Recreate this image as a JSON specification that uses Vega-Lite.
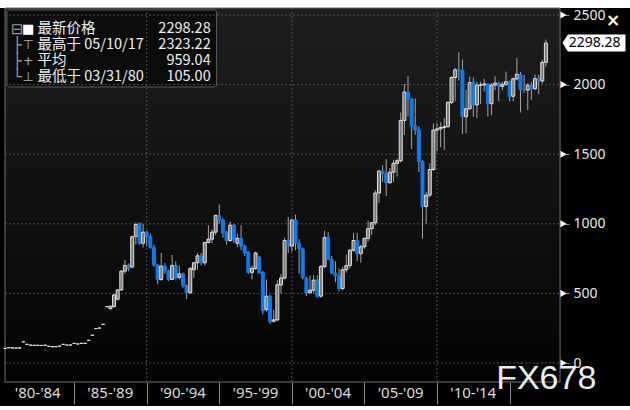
{
"$schema": "https://vega.github.io/schema/vega-lite/v6.json",
"width": 630, "height": 398,
"autosize": {"type": "none"},
"padding": {"left": 0, "right": 0, "top": 8, "bottom": 4},
"background": "#ffffff",
"config": {"view": {"fill": "#000000", "stroke": null}},
"datasets": {
"gridY": [{"v":0},{"v":500},{"v":1000},{"v":1500},{"v":2000},{"v":2500}],
"gridX": [{"v":1990},{"v":2000},{"v":2010}],
"majorTicks": [{"v":0},{"v":500},{"v":1000},{"v":1500},{"v":2000},{"v":2500}],
"last": [{"close": 2298.28}],
"legend": [
{"tree":"⊟","icon":"■","label":"最新价格","num":2298.28},
{"tree":"├","icon":"⊤","label":"最高于 05/10/17","num":2323.22},
{"tree":"├","icon":"+","label":"平均","num":959.04},
{"tree":"└","icon":"⊥","label":"最低于 03/31/80","num":105.00}
],
"kospi": [
{"t":1980.25,"open":105,"high":105,"low":105,"close":105},
{"t":1980.5,"open":110,"high":110,"low":110,"close":110},
{"t":1980.75,"open":108,"high":108,"low":108,"close":108},
{"t":1981.0,"open":107,"high":107,"low":107,"close":107},
{"t":1981.25,"open":108,"high":108,"low":108,"close":108},
{"t":1981.5,"open":152,"high":152,"low":152,"close":152},
{"t":1981.75,"open":134,"high":134,"low":134,"close":134},
{"t":1982.0,"open":128,"high":128,"low":128,"close":128},
{"t":1982.25,"open":127,"high":127,"low":127,"close":127},
{"t":1982.5,"open":127,"high":127,"low":127,"close":127},
{"t":1982.75,"open":126,"high":126,"low":126,"close":126},
{"t":1983.0,"open":128,"high":128,"low":128,"close":128},
{"t":1983.25,"open":120,"high":120,"low":120,"close":120},
{"t":1983.5,"open":117,"high":117,"low":117,"close":117},
{"t":1983.75,"open":117,"high":117,"low":117,"close":117},
{"t":1984.0,"open":121,"high":121,"low":121,"close":121},
{"t":1984.25,"open":134,"high":134,"low":134,"close":134},
{"t":1984.5,"open":129,"high":129,"low":129,"close":129},
{"t":1984.75,"open":129,"high":129,"low":129,"close":129},
{"t":1985.0,"open":141,"high":141,"low":141,"close":141},
{"t":1985.25,"open":137,"high":137,"low":137,"close":137},
{"t":1985.5,"open":141,"high":141,"low":141,"close":141},
{"t":1985.75,"open":141,"high":141,"low":141,"close":141},
{"t":1986.0,"open":163,"high":163,"low":163,"close":163},
{"t":1986.25,"open":199,"high":199,"low":199,"close":199},
{"t":1986.5,"open":247,"high":247,"low":247,"close":247},
{"t":1986.75,"open":251,"high":251,"low":251,"close":251},
{"t":1987.0,"open":278,"high":278,"low":278,"close":278},
{"t":1987.25,"open":405,"high":405,"low":405,"close":405},
{"t":1987.5,"open":390,"high":412,"low":385,"close":408},
{"t":1987.75,"open":405,"high":495,"low":400,"close":489},
{"t":1988.0,"open":458,"high":532,"low":450,"close":525},
{"t":1988.25,"open":525,"high":668,"low":520,"close":660},
{"t":1988.5,"open":660,"high":740,"low":640,"close":700},
{"t":1988.75,"open":704,"high":715,"low":660,"close":680},
{"t":1989.0,"open":690,"high":915,"low":680,"close":907},
{"t":1989.25,"open":910,"high":1010,"low":850,"close":995},
{"t":1989.5,"open":1003,"high":1008,"low":848,"close":860},
{"t":1989.75,"open":860,"high":1000,"low":830,"close":940},
{"t":1990.0,"open":940,"high":950,"low":840,"close":909},
{"t":1990.25,"open":909,"high":930,"low":820,"close":830},
{"t":1990.5,"open":830,"high":850,"low":690,"close":705},
{"t":1990.75,"open":705,"high":710,"low":566,"close":600},
{"t":1991.0,"open":600,"high":790,"low":590,"close":696},
{"t":1991.25,"open":696,"high":720,"low":640,"close":660},
{"t":1991.5,"open":660,"high":670,"low":590,"close":600},
{"t":1991.75,"open":600,"high":776,"low":596,"close":700},
{"t":1992.0,"open":700,"high":730,"low":600,"close":610},
{"t":1992.25,"open":615,"high":700,"low":600,"close":640},
{"t":1992.5,"open":640,"high":650,"low":540,"close":555},
{"t":1992.75,"open":555,"high":565,"low":459,"close":505},
{"t":1993.0,"open":505,"high":690,"low":495,"close":678},
{"t":1993.25,"open":670,"high":726,"low":610,"close":720},
{"t":1993.5,"open":720,"high":790,"low":670,"close":770},
{"t":1993.75,"open":770,"high":790,"low":700,"close":720},
{"t":1994.0,"open":720,"high":870,"low":700,"close":866},
{"t":1994.25,"open":866,"high":990,"low":860,"close":890},
{"t":1994.5,"open":890,"high":960,"low":860,"close":940},
{"t":1994.75,"open":940,"high":1065,"low":920,"close":1060},
{"t":1995.0,"open":1060,"high":1139,"low":1000,"close":1027},
{"t":1995.25,"open":1027,"high":1040,"low":900,"close":935},
{"t":1995.5,"open":935,"high":950,"low":850,"close":880},
{"t":1995.75,"open":880,"high":1016,"low":870,"close":990},
{"t":1996.0,"open":990,"high":1000,"low":860,"close":882},
{"t":1996.25,"open":860,"high":930,"low":830,"close":895},
{"t":1996.5,"open":895,"high":990,"low":810,"close":840},
{"t":1996.75,"open":840,"high":850,"low":770,"close":790},
{"t":1997.0,"open":797,"high":800,"low":640,"close":651},
{"t":1997.25,"open":651,"high":700,"low":600,"close":680},
{"t":1997.5,"open":680,"high":800,"low":670,"close":790},
{"t":1997.75,"open":760,"high":770,"low":640,"close":647},
{"t":1998.0,"open":650,"high":660,"low":350,"close":376},
{"t":1998.25,"open":385,"high":600,"low":370,"close":480},
{"t":1998.5,"open":480,"high":490,"low":280,"close":297},
{"t":1998.75,"open":300,"high":380,"low":290,"close":310},
{"t":1999.0,"open":310,"high":596,"low":300,"close":562},
{"t":1999.25,"open":560,"high":640,"low":500,"close":610},
{"t":1999.5,"open":610,"high":900,"low":600,"close":880},
{"t":1999.75,"open":880,"high":1050,"low":790,"close":840},
{"t":2000.0,"open":840,"high":1030,"low":800,"close":1028},
{"t":2000.25,"open":1028,"high":1066,"low":810,"close":860},
{"t":2000.5,"open":860,"high":890,"low":640,"close":820},
{"t":2000.75,"open":820,"high":830,"low":600,"close":615},
{"t":2001.0,"open":610,"high":620,"low":480,"close":504},
{"t":2001.25,"open":504,"high":630,"low":500,"close":523},
{"t":2001.5,"open":523,"high":630,"low":500,"close":595},
{"t":2001.75,"open":595,"high":630,"low":468,"close":479},
{"t":2002.0,"open":480,"high":704,"low":470,"close":693},
{"t":2002.25,"open":693,"high":950,"low":680,"close":900},
{"t":2002.5,"open":905,"high":940,"low":740,"close":742},
{"t":2002.75,"open":742,"high":770,"low":640,"close":646},
{"t":2003.0,"open":646,"high":730,"low":580,"close":627},
{"t":2003.25,"open":627,"high":680,"low":515,"close":535},
{"t":2003.5,"open":535,"high":690,"low":520,"close":670},
{"t":2003.75,"open":670,"high":780,"low":650,"close":700},
{"t":2004.0,"open":700,"high":820,"low":680,"close":810},
{"t":2004.25,"open":810,"high":936,"low":800,"close":880},
{"t":2004.5,"open":880,"high":936,"low":730,"close":785},
{"t":2004.75,"open":785,"high":850,"low":720,"close":835},
{"t":2005.0,"open":835,"high":900,"low":820,"close":896},
{"t":2005.25,"open":896,"high":1022,"low":870,"close":965},
{"t":2005.5,"open":965,"high":1010,"low":920,"close":1008},
{"t":2005.75,"open":1008,"high":1240,"low":990,"close":1221},
{"t":2006.0,"open":1221,"high":1387,"low":1150,"close":1379},
{"t":2006.25,"open":1379,"high":1420,"low":1300,"close":1360},
{"t":2006.5,"open":1360,"high":1465,"low":1200,"close":1295},
{"t":2006.75,"open":1295,"high":1400,"low":1290,"close":1371},
{"t":2007.0,"open":1371,"high":1460,"low":1300,"close":1434},
{"t":2007.25,"open":1434,"high":1470,"low":1340,"close":1453},
{"t":2007.5,"open":1453,"high":1800,"low":1440,"close":1743},
{"t":2007.75,"open":1743,"high":2005,"low":1638,"close":1946},
{"t":2008.0,"open":1946,"high":2064,"low":1770,"close":1897},
{"t":2008.25,"open":1897,"high":1900,"low":1537,"close":1704},
{"t":2008.5,"open":1704,"high":1901,"low":1640,"close":1674},
{"t":2008.75,"open":1674,"high":1700,"low":1372,"close":1448},
{"t":2009.0,"open":1448,"high":1460,"low":892,"close":1124},
{"t":2009.25,"open":1124,"high":1230,"low":1000,"close":1206},
{"t":2009.5,"open":1206,"high":1435,"low":1190,"close":1390},
{"t":2009.75,"open":1390,"high":1720,"low":1380,"close":1673},
{"t":2010.0,"open":1673,"high":1723,"low":1520,"close":1682},
{"t":2010.25,"open":1682,"high":1730,"low":1550,"close":1692},
{"t":2010.5,"open":1692,"high":1760,"low":1530,"close":1698},
{"t":2010.75,"open":1698,"high":1880,"low":1690,"close":1872},
{"t":2011.0,"open":1872,"high":2060,"low":1860,"close":2051},
{"t":2011.25,"open":2051,"high":2120,"low":1880,"close":2106},
{"t":2011.5,"open":2106,"high":2231,"low":2030,"close":2100},
{"t":2011.75,"open":2100,"high":2180,"low":1644,"close":1769},
{"t":2012.0,"open":1769,"high":1960,"low":1650,"close":1826},
{"t":2012.25,"open":1826,"high":2057,"low":1820,"close":2014},
{"t":2012.5,"open":2014,"high":2050,"low":1770,"close":1854},
{"t":2012.75,"open":1854,"high":2020,"low":1760,"close":1996},
{"t":2013.0,"open":1996,"high":2020,"low":1860,"close":1997},
{"t":2013.25,"open":1997,"high":2042,"low":1950,"close":2005},
{"t":2013.5,"open":2005,"high":2010,"low":1770,"close":1863},
{"t":2013.75,"open":1863,"high":2010,"low":1780,"close":1997},
{"t":2014.0,"open":1997,"high":2060,"low":1960,"close":2011},
{"t":2014.25,"open":2011,"high":2020,"low":1880,"close":1986},
{"t":2014.5,"open":1986,"high":2020,"low":1960,"close":2002},
{"t":2014.75,"open":2002,"high":2093,"low":1990,"close":2020},
{"t":2015.0,"open":2020,"high":2030,"low":1880,"close":1916},
{"t":2015.25,"open":1916,"high":2050,"low":1880,"close":2041},
{"t":2015.5,"open":2041,"high":2190,"low":2030,"close":2074},
{"t":2015.75,"open":2074,"high":2090,"low":1800,"close":1963},
{"t":2016.0,"open":1963,"high":2070,"low":1940,"close":1961},
{"t":2016.25,"open":1961,"high":2010,"low":1817,"close":1996},
{"t":2016.5,"open":1996,"high":2020,"low":1890,"close":1970},
{"t":2016.75,"open":1970,"high":2073,"low":1960,"close":2043},
{"t":2017.0,"open":2043,"high":2070,"low":1930,"close":2026},
{"t":2017.25,"open":2026,"high":2180,"low":2010,"close":2160},
{"t":2017.5,"open":2160,"high":2323.22,"low":2130,"close":2298.28}
]
},
"layer": [
{"layer": [
 {"data": {"values": [{}]},
  "mark": {"type": "rect", "fill": {"gradient": "linear", "x1": 0, "y1": 0, "x2": 0, "y2": 1, "stops": [{"offset": 0, "color": "#1f1f21"}, {"offset": 1, "color": "#030303"}]}, "stroke": "#707070", "strokeWidth": 1},
  "encoding": {
   "x": {"datum": 1980.237, "type": "quantitative", "scale": {"domain": [1980.237, 2022.949], "nice": false, "zero": false},
     "axis": {"title": null, "orient": "bottom", "offset": -24,
       "values": [1985, 1990, 1995, 2000, 2005, 2010, 2015],
       "labelExpr": "datum.value==1985?\"'80-'84\":datum.value==1990?\"'85-'89\":datum.value==1995?\"'90-'94\":datum.value==2000?\"'95-'99\":datum.value==2005?\"'00-'04\":datum.value==2010?\"'05-'09\":datum.value==2015?\"'10-'14\":''",
       "labelOffset": -36.9, "labelPadding": -12, "labelBaseline": "middle", "labelAlign": "center",
       "labelFlush": false, "labelOverlap": false, "labelBound": false,
       "labelColor": "#dcdcdc", "labelFont": "Noto Sans", "labelFontSize": 15,
       "tickSize": 22, "tickColor": "#8a8a8a", "tickWidth": 1, "domain": false, "grid": false}},
   "x2": {"datum": 2018.475},
   "y": {"datum": 2550.3, "type": "quantitative", "scale": {"domain": [-308.9, 2550.3], "nice": false, "zero": false},
     "axis": {"title": null, "orient": "right", "offset": -66,
       "values": [0, 250, 500, 750, 1000, 1250, 1500, 1750, 2000, 2250, 2500],
       "format": "d",
       "labelExpr": "datum.value % 500 == 0 ? datum.label : ''",
       "labelColor": "#e8e8e8", "labelFont": "Noto Sans", "labelFontSize": 14,
       "labelPadding": 4, "labelBaseline": "middle", "labelFlush": false, "labelOverlap": false, "labelBound": false,
       "tickSize": 5, "tickColor": "#8a8a8a", "domain": false, "grid": false}},
   "y2": {"datum": -136.5}
  }},
 {"data": {"values": [{}]},
  "mark": {"type": "rect", "fill": "#0a0a0a", "fillOpacity": 0.9, "stroke": "#5c5c5c", "strokeWidth": 1, "cornerRadius": 3},
  "encoding": {
   "x": {"datum": 1980.373, "type": "quantitative"},
   "x2": {"datum": 1994.813},
   "y": {"datum": 2536, "type": "quantitative"},
   "y2": {"datum": 1982.8}
  }},
 {"data": {"name": "gridY"},
  "mark": {"type": "rule", "stroke": "#4e4e4e", "strokeWidth": 1, "strokeDash": [2, 2]},
  "encoding": {
   "x": {"datum": 1980.237, "type": "quantitative"},
   "x2": {"datum": 2018.475},
   "y": {"field": "v", "type": "quantitative", "title": null}
  }},
 {"data": {"name": "gridX"},
  "mark": {"type": "rule", "stroke": "#4e4e4e", "strokeWidth": 1, "strokeDash": [2, 2]},
  "encoding": {
   "x": {"field": "v", "type": "quantitative", "title": null},
   "y": {"datum": -136.5, "type": "quantitative"},
   "y2": {"datum": 2550.3}
  }},
 {"data": {"name": "kospi"},
  "mark": {"type": "rule", "stroke": "#a4a4a4", "strokeWidth": 1},
  "encoding": {
   "x": {"field": "t", "type": "quantitative", "title": null},
   "y": {"field": "low", "type": "quantitative", "title": null},
   "y2": {"field": "high"}
  }},
 {"data": {"name": "kospi"},
  "mark": {"type": "bar", "width": 3, "strokeWidth": 1},
  "encoding": {
   "x": {"field": "t", "type": "quantitative", "title": null},
   "y": {"field": "open", "type": "quantitative", "title": null},
   "y2": {"field": "close"},
   "fill": {"condition": {"test": "datum.close >= datum.open", "value": "#7a7a7a"}, "value": "#137ae8"},
   "stroke": {"condition": {"test": "datum.close >= datum.open", "value": "#e2e2e2"}, "value": "#137ae8"}
  }},
 {"data": {"name": "majorTicks"},
  "mark": {"type": "point", "shape": "triangle-right", "filled": true, "fill": "#ffffff", "opacity": 1, "size": 50, "strokeWidth": 0},
  "encoding": {
   "x": {"datum": 2018.712, "type": "quantitative"},
   "y": {"field": "v", "type": "quantitative", "title": null}
  }},
 {"data": {"name": "last"},
  "mark": {"type": "point", "shape": "M -1 0 L -0.83 -0.27 L 1 -0.27 L 1 0.27 L -0.83 0.27 Z", "filled": true, "fill": "#ffffff", "opacity": 1, "size": 3969, "strokeWidth": 0},
  "encoding": {
   "x": {"datum": 2020.814, "type": "quantitative"},
   "y": {"field": "close", "type": "quantitative", "title": null}
  }},
 {"data": {"name": "last"},
  "mark": {"type": "text", "font": "Noto Sans", "fontSize": 14, "fill": "#000000", "align": "center", "baseline": "middle"},
  "encoding": {
   "x": {"datum": 2020.85, "type": "quantitative"},
   "y": {"field": "close", "type": "quantitative", "title": null},
   "text": {"field": "close", "type": "quantitative", "format": ".2f"}
  }},
 {"data": {"values": [{}]},
  "mark": {"type": "text", "text": "×", "font": "DejaVu Sans", "fontSize": 17, "fontWeight": "bold", "fill": "#ffffff", "align": "center", "baseline": "middle"},
  "encoding": {
   "x": {"datum": 2022.136, "type": "quantitative"},
   "y": {"datum": 2456.9, "type": "quantitative"}
  }},
 {"data": {"values": [{}]},
  "mark": {"type": "text", "text": "FX678", "font": "Liberation Sans", "fontSize": 34, "fill": "#ffffff", "opacity": 0.92, "align": "center", "baseline": "alphabetic"},
  "encoding": {
   "x": {"datum": 2017.525, "type": "quantitative"},
   "y": {"datum": -186.8, "type": "quantitative"}
  }}
]},
{"layer": [
 {"data": {"name": "legend"},
  "mark": {"type": "text", "font": "DejaVu Sans", "fontSize": 15, "fill": "#9a9a9a", "align": "center", "baseline": "middle"},
  "encoding": {
   "x": {"datum": 1981.084, "type": "quantitative"},
   "y": {"field": "label", "type": "nominal", "axis": null, "scale": {"type": "point", "domain": ["最新价格", "最高于 05/10/17", "平均", "最低于 03/31/80"], "range": [21, 69], "padding": 0}},
   "text": {"field": "tree"}
  }},
 {"data": {"name": "legend"},
  "mark": {"type": "text", "font": "DejaVu Sans", "fontSize": 13, "align": "center", "baseline": "middle"},
  "encoding": {
   "x": {"datum": 1981.83, "type": "quantitative"},
   "y": {"field": "label", "type": "nominal", "axis": null, "scale": {"type": "point", "domain": ["最新价格", "最高于 05/10/17", "平均", "最低于 03/31/80"], "range": [21, 69], "padding": 0}},
   "text": {"field": "icon"},
   "color": {"condition": {"test": "datum.icon == '■'", "value": "#ffffff"}, "value": "#b0b0b0"}
  }},
 {"data": {"name": "legend"},
  "mark": {"type": "text", "font": "Noto Sans CJK SC", "fontSize": 14.5, "fill": "#f0f0f0", "align": "left", "baseline": "middle"},
  "encoding": {
   "x": {"datum": 1982.474, "type": "quantitative"},
   "y": {"field": "label", "type": "nominal", "axis": null, "scale": {"type": "point", "domain": ["最新价格", "最高于 05/10/17", "平均", "最低于 03/31/80"], "range": [21, 69], "padding": 0}},
   "text": {"field": "label"}
  }},
 {"data": {"name": "legend"},
  "mark": {"type": "text", "font": "Noto Sans CJK SC", "fontSize": 14.5, "fill": "#f0f0f0", "align": "right", "baseline": "middle"},
  "encoding": {
   "x": {"datum": 1994.407, "type": "quantitative"},
   "y": {"field": "label", "type": "nominal", "axis": null, "scale": {"type": "point", "domain": ["最新价格", "最高于 05/10/17", "平均", "最低于 03/31/80"], "range": [21, 69], "padding": 0}},
   "text": {"field": "num", "type": "quantitative", "format": ".2f"}
  }}
]}
],
"resolve": {"scale": {"y": "independent"}}
}
